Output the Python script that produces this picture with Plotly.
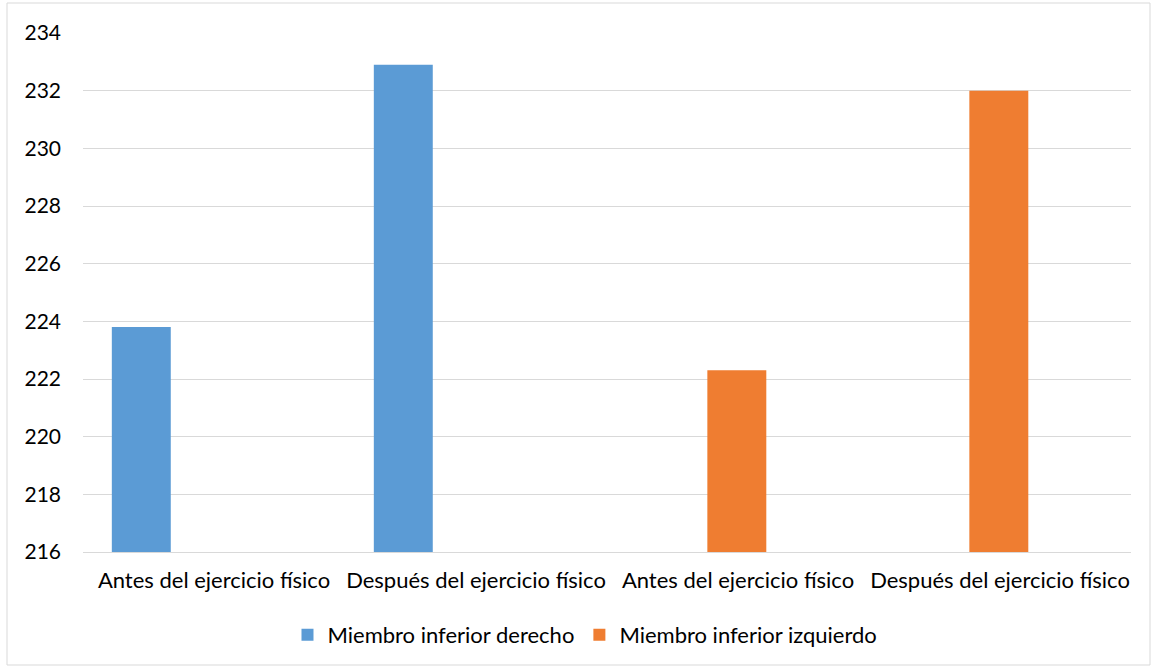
import plotly.graph_objects as go

categories = ["Antes del ejercicio físico", "Después del ejercicio físico",
              "Antes del ejercicio físico", "Después del ejercicio físico"]
derecho = [223.8, 232.9, None, None]
izquierdo = [None, None, 222.3, 232.0]
series_names = ["Miembro inferior derecho", "Miembro inferior izquierdo"]
y_ticks = [216, 218, 220, 222, 224, 226, 228, 230, 232, 234]

xpos = list(range(len(categories)))
FONT = "Lato, 'Open Sans', sans-serif"

fig = go.Figure()
fig.add_trace(go.Bar(
    x=xpos, y=derecho, name=series_names[0],
    width=0.225, offset=-0.39,
    marker=dict(color="#5b9bd5", line=dict(width=0)),
))
fig.add_trace(go.Bar(
    x=xpos, y=izquierdo, name=series_names[1],
    width=0.225, offset=-0.117,
    marker=dict(color="#ef7d31", line=dict(width=0)),
))

fig.update_layout(
    width=1157, height=672,
    margin=dict(l=83, r=26, t=33, b=120),
    paper_bgcolor="white", plot_bgcolor="white",
    font=dict(family=FONT, size=20, color="#000000"),
    barmode="overlay",
    showlegend=True,
    legend=dict(orientation="h", x=0.479, xanchor="center", y=-0.16, yanchor="middle",
                font=dict(size=22), itemwidth=30, traceorder="normal"),
    xaxis=dict(range=[-0.5, 3.5], tickvals=xpos, ticktext=categories,
               showgrid=False, zeroline=False, showline=True, linecolor="#d9d9d9",
               linewidth=1, ticks="", ticklabelstandoff=9,
               tickfont=dict(size=22), fixedrange=True),
    yaxis=dict(range=[216, 234], tickvals=y_ticks, showgrid=True,
               gridcolor="#d9d9d9", gridwidth=1, zeroline=False, showline=False,
               ticks="", ticklabelstandoff=21, tickfont=dict(size=21)),
    shapes=[dict(type="rect", xref="paper", yref="paper",
                 x0=-76/1048, x1=1+19/1048, y0=-(665-552)/519, y1=1+30/519,
                 line=dict(color="#d9d9d9", width=1), fillcolor="rgba(0,0,0,0)")],
)

fig.write_html("out.html")
